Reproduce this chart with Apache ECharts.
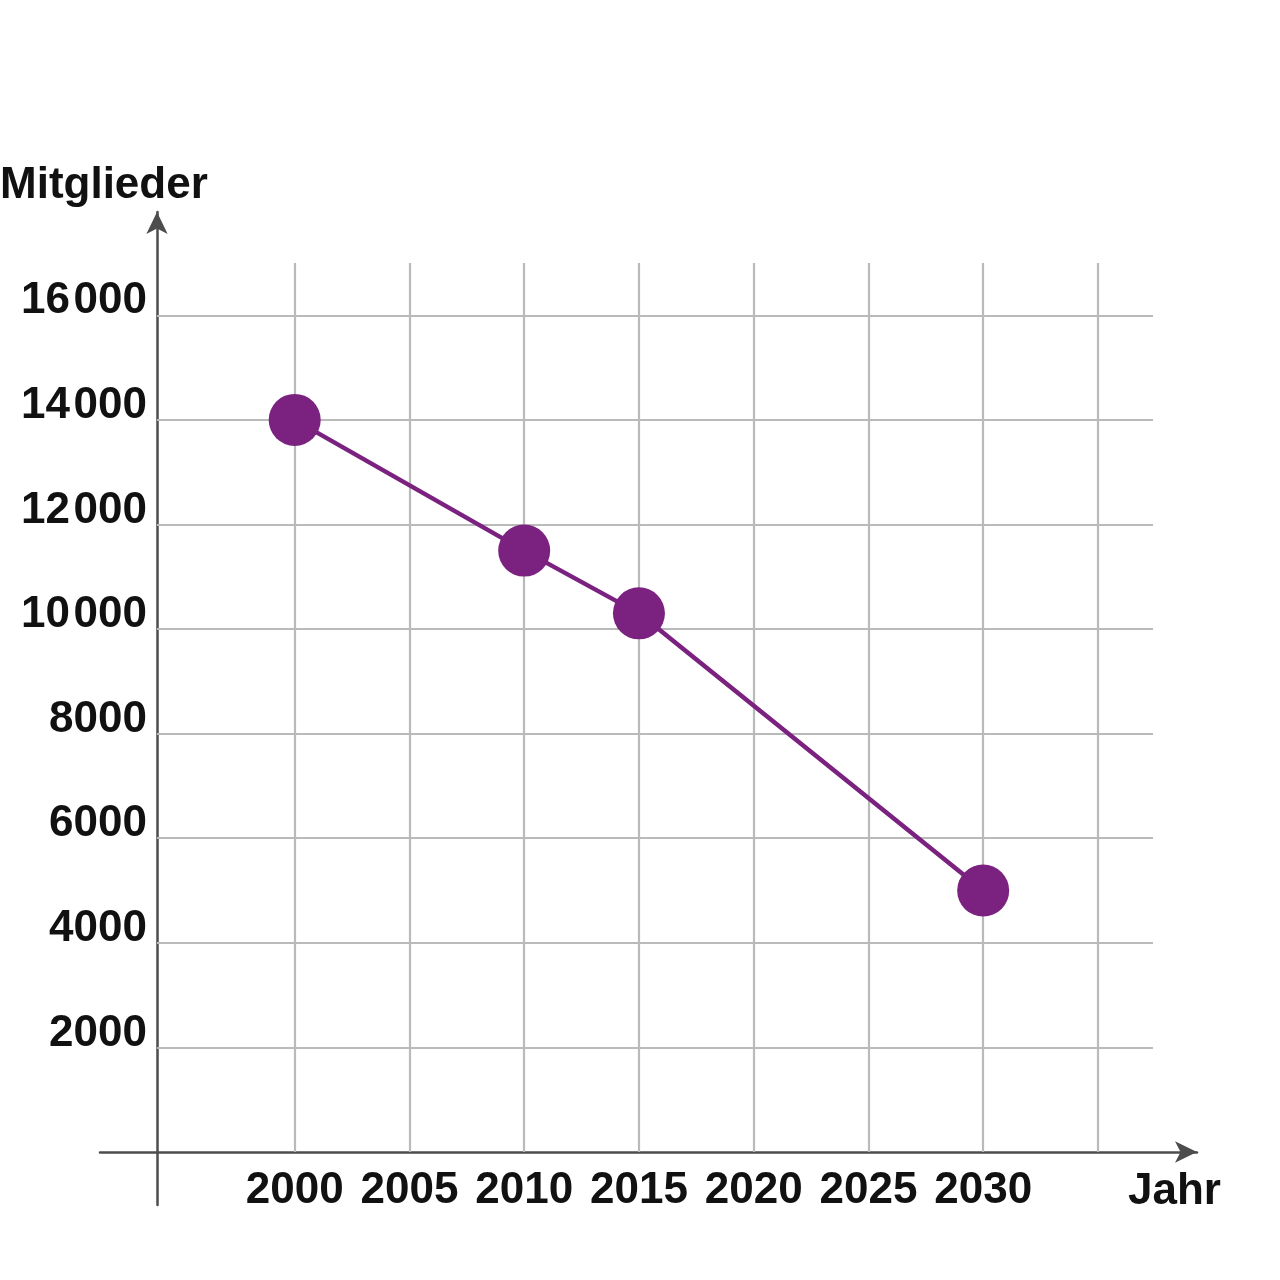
<!DOCTYPE html>
<html>
<head>
<meta charset="utf-8">
<style>html,body{margin:0;padding:0;background:#fff;}#c{width:1280px;height:1280px;}</style>
<script src="https://cdn.jsdelivr.net/npm/echarts@6/dist/echarts.min.js"></script>
</head>
<body>
<div id="c"></div>
<script>
const years = [2000, 2010, 2015, 2030];
const members = [14000, 11500, 10300, 5000];
const yearLabels = [2000, 2005, 2010, 2015, 2020, 2025, 2030];
const yearGridLines = [2000, 2005, 2010, 2015, 2020, 2025, 2030, 2035];
const memberGridLines = [2000, 4000, 6000, 8000, 10000, 12000, 14000, 16000];
const yTitle = 'Mitglieder';
const xTitle = 'Jahr';

const FONT = "'Liberation Sans', Arial, sans-serif";
const FS = 44;
const PURPLE = '#7b217f';
const GRIDC = '#bababa';
const AXISC = '#4d4d4d';

function fmtNum(v) {
  const s = String(v);
  return v >= 10000 ? s.slice(0, s.length - 3) + '\u200A' + s.slice(-3) : s;
}

const chart = echarts.init(document.getElementById('c'), null, {renderer: 'canvas'});
chart.setOption({
  animation: false,
  backgroundColor: '#fff',
  title: [
    {text: yTitle, left: 0, top: 164, padding: 0,
     textStyle: {fontFamily: FONT, fontSize: FS, fontWeight: 'bold', color: '#111'}},
    {text: xTitle, left: 1128, top: 1170, padding: 0,
     textStyle: {fontFamily: FONT, fontSize: FS, fontWeight: 'bold', color: '#111'}}
  ],
  grid: [
    {left: 157, right: 127, top: 263, bottom: 128, outerBoundsMode: 'none', containLabel: false},
    {left: 100, right: 83, top: 263, bottom: 128, outerBoundsMode: 'none', containLabel: false},
    {left: 157, right: 127, top: 212, bottom: 75, outerBoundsMode: 'none', containLabel: false}
  ],
  xAxis: [
    {gridIndex: 0, type: 'value', min: 1994, max: 2037.4,
     axisLine: {show: false}, axisTick: {show: false}, splitLine: {show: false},
     axisLabel: {customValues: yearLabels, formatter: v => String(v), margin: 17,
       hideOverlap: false, showMinLabel: true, showMaxLabel: true,
       fontFamily: FONT, fontSize: FS, fontWeight: 'bold', color: '#111'}},
    {gridIndex: 1, type: 'value', min: 0, max: 1, position: 'bottom',
     axisLine: {show: true, onZero: false, symbol: ['none', 'arrow'], symbolSize: [16, 22],
       lineStyle: {color: AXISC, width: 2.5}},
     axisTick: {show: false}, axisLabel: {show: false}, splitLine: {show: false}},
    {gridIndex: 2, type: 'value', min: 0, max: 1, show: false}
  ],
  yAxis: [
    {gridIndex: 0, type: 'value', min: 0, max: 17000, interval: 2000,
     axisLine: {show: false}, axisTick: {show: false}, splitLine: {show: false},
     axisLabel: {margin: 10, verticalAlign: 'bottom', lineHeight: 28,
       formatter: v => (v >= 2000 && v <= 16000) ? fmtNum(v) : '',
       fontFamily: FONT, fontSize: FS, fontWeight: 'bold', color: '#111'}},
    {gridIndex: 1, type: 'value', min: 0, max: 1, show: false},
    {gridIndex: 2, type: 'value', min: 0, max: 1, position: 'left',
     axisLine: {show: true, onZero: false, symbol: ['none', 'arrow'], symbolSize: [16, 22],
       lineStyle: {color: AXISC, width: 2.5}},
     axisTick: {show: false}, axisLabel: {show: false}, splitLine: {show: false}}
  ],
  series: [
    {type: 'line', xAxisIndex: 0, yAxisIndex: 0, data: [], z: 1, silent: true,
     markLine: {silent: true, symbol: ['none', 'none'], z: 1, animation: false,
       label: {show: false},
       lineStyle: {color: GRIDC, width: 2.2, type: 'solid'},
       emphasis: {disabled: true},
       data: yearGridLines.map(v => ({xAxis: v})).concat(memberGridLines.map(v => ({yAxis: v})))}},
    {type: 'line', xAxisIndex: 0, yAxisIndex: 0, z: 5,
     data: years.map((y, i) => [y, members[i]]),
     symbol: 'circle', symbolSize: 52,
     lineStyle: {color: PURPLE, width: 4.5},
     itemStyle: {color: PURPLE}}
  ]
});
</script>
</body>
</html>
